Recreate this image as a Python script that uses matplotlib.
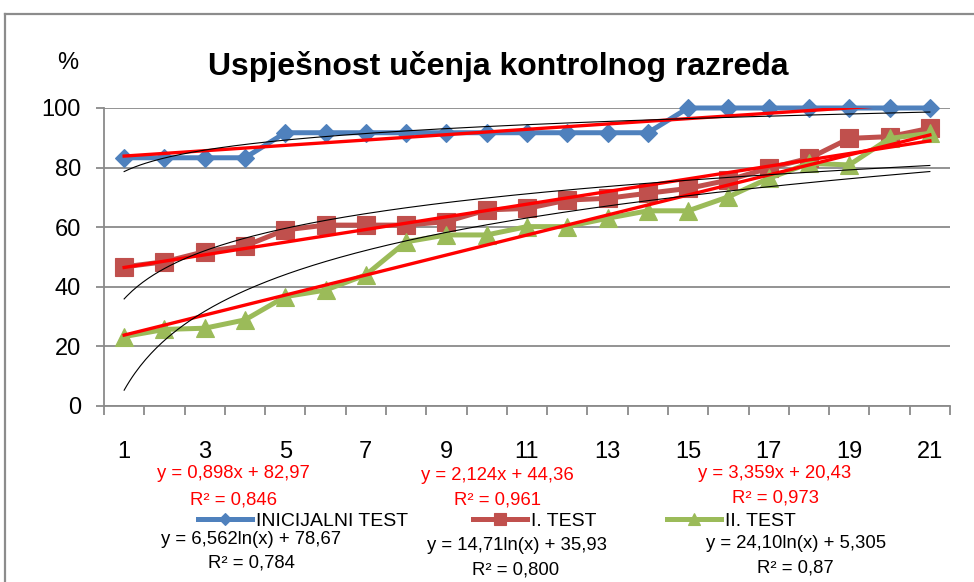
import numpy as np
import matplotlib
matplotlib.use('Agg')
import matplotlib.pyplot as plt
from matplotlib.lines import Line2D

# ---------------- data ----------------
categories = list(range(1, 22))
x_tick_labels = ['1', '3', '5', '7', '9', '11', '13', '15', '17', '19', '21']
y_ticks = [0, 20, 40, 60, 80, 100]

inicijalni = [83.3, 83.3, 83.3, 83.3, 91.7, 91.7, 91.7, 91.7, 91.7, 91.7, 91.7,
              91.7, 91.7, 91.7, 100, 100, 100, 100, 100, 100, 100]
test1 = [46.7, 48.4, 51.8, 53.7, 59.1, 60.7, 60.7, 60.7, 61.9, 65.8, 66.3,
         69.1, 69.7, 71.4, 73.0, 75.8, 79.8, 83.1, 89.8, 90.4, 93.2]
test2 = [23.3, 25.7, 26.1, 28.9, 36.7, 38.9, 44.0, 55.1, 57.4, 57.4, 60.2,
         60.2, 63.0, 65.5, 65.5, 70.2, 76.4, 81.4, 80.9, 89.8, 91.5]
series_names = ['INICIJALNI TEST', 'I. TEST', 'II. TEST']

lin_slope = [0.898, 2.124, 3.359]
lin_intercept = [82.97, 44.36, 20.43]
log_coef = [6.562, 14.71, 24.10]
log_const = [78.67, 35.93, 5.305]
lin_eq_labels = ['y = 0,898x + 82,97', 'y = 2,124x + 44,36', 'y = 3,359x + 20,43']
lin_r2_labels = ['R² = 0,846', 'R² = 0,961', 'R² = 0,973']
log_eq_labels = ['y = 6,562ln(x) + 78,67', 'y = 14,71ln(x) + 35,93', 'y = 24,10ln(x) + 5,305']
log_r2_labels = ['R² = 0,784', 'R² = 0,800', 'R² = 0,87']

title_text = 'Uspješnost učenja kontrolnog razreda'
y_unit = '%'

# ---------------- style ----------------
plt.rcParams['font.family'] = ['Liberation Sans', 'DejaVu Sans']
colors = ['#4F81BD', '#C0504D', '#9BBB59']
markers = ['D', 's', '^']
msizes = [8.8, 13.0, 13.0]
grid_col = '#8a8a8a'

W, H = 974, 582
fig = plt.figure(figsize=(W / 100, H / 100), dpi=100)


def fx(px):
    return px / W


def fy(py):
    return 1 - py / H


ax = fig.add_axes([fx(104), fy(406), fx(950) - fx(104), fy(108) - fy(406)])

series = [inicijalni, test1, test2]
handles = []
for vals, c, m, ms, name in zip(series, colors, markers, msizes, series_names):
    h, = ax.plot(categories, vals, color=c, lw=3.6, marker=m, ms=ms,
                 mfc=c, mec=c, mew=0.8, zorder=3, label=name, clip_on=False)
    handles.append(h)

x_lo, x_hi = categories[0], categories[-1]
xs = np.linspace(x_lo, x_hi, 300)
for a, b in zip(lin_slope, lin_intercept):
    ax.plot([x_lo, x_hi], [a * x_lo + b, a * x_hi + b], color='#FF0000', lw=2.4, zorder=4)
for a, b in zip(log_coef, log_const):
    ax.plot(xs, a * np.log(xs) + b, color='black', lw=0.8, zorder=5)

ax.set_xlim(0.5, 21.5)
ax.set_ylim(0, 100)
ax.set_yticks(y_ticks)
ax.set_yticklabels([str(v) for v in y_ticks])
ax.set_xticks([int(t) for t in x_tick_labels])
ax.set_xticklabels(x_tick_labels)
ax.set_xticks(np.arange(0.5, 22.0, 1.0), minor=True)

ax.yaxis.grid(True, color=grid_col, lw=1.3)
ax.set_axisbelow(True)
for s in ['top', 'right']:
    ax.spines[s].set_visible(False)
for s in ['left', 'bottom']:
    ax.spines[s].set_color(grid_col)
    ax.spines[s].set_linewidth(1.3)

ax.tick_params(axis='y', length=5.5, width=1.3, color=grid_col, direction='out',
               pad=11, labelsize=17)
ax.tick_params(axis='x', which='major', length=0, pad=25, labelsize=17)
ax.tick_params(axis='x', which='minor', length=6.5, width=1.3, color=grid_col,
               direction='out')

# title and unit
fig.text(fx(498), fy(75), title_text, ha='center', va='baseline',
         fontsize=23, fontweight='bold')
fig.text(fx(68), fy(63), y_unit, ha='center', va='center', fontsize=17)

# trendline labels
lin_pos = [(233, 473), (497, 476), (775, 473)]
lin_r2_pos = [(233, 500), (498, 500), (776, 498)]
log_pos = [(251, 539), (517, 545), (796, 543)]
log_r2_pos = [(251, 563), (516, 570), (795, 568)]
for lab, (px, py) in zip(lin_eq_labels, lin_pos):
    fig.text(fx(px), fy(py), lab, ha='center', va='center', fontsize=13.3, color='#FF0000')
for lab, (px, py) in zip(lin_r2_labels, lin_r2_pos):
    fig.text(fx(px), fy(py), lab, ha='center', va='center', fontsize=13.3, color='#FF0000')
for lab, (px, py) in zip(log_eq_labels, log_pos):
    fig.text(fx(px), fy(py), lab, ha='center', va='center', fontsize=13.3, color='black')
for lab, (px, py) in zip(log_r2_labels, log_r2_pos):
    fig.text(fx(px), fy(py), lab, ha='center', va='center', fontsize=13.3, color='black')

# legend entries
leg_x = [198, 473, 667]
for h, name, lx in zip(handles, series_names, leg_x):
    fig.legend([h], [name], loc='center left', bbox_to_anchor=(fx(lx), fy(521)),
               bbox_transform=fig.transFigure, frameon=False, borderpad=0,
               borderaxespad=0, handlelength=2.8, handletextpad=0.2,
               fontsize=14, markerscale=0.7)

# chart border
fig.add_artist(Line2D([fx(5), fx(5)], [fy(14), 0], transform=fig.transFigure,
                      color='#8c8c8c', lw=1.6))
fig.add_artist(Line2D([fx(5), 1], [fy(14), fy(14)], transform=fig.transFigure,
                      color='#8c8c8c', lw=1.6))

fig.savefig('out.png', dpi=100)
